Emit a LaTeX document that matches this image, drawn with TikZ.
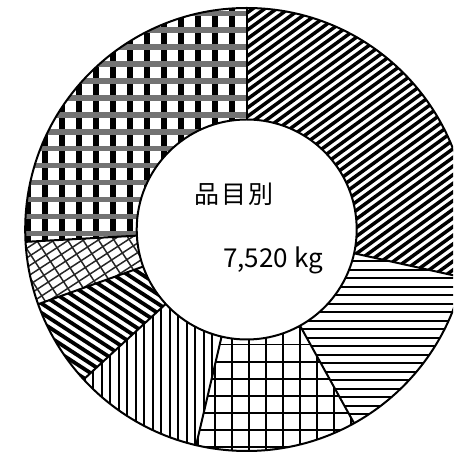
\documentclass[tikz,border=0pt]{standalone}
\usepackage{fontspec}
\newfontfamily\jp{Noto Sans CJK JP}
\newcommand{\Ro}{221.5}
\newcommand{\Ri}{110}
\newcommand{\annsec}[2]{(#1:\Ro) arc[start angle=#1,end angle=#2,radius=\Ro] -- (#2:\Ri) arc[start angle=#2,end angle=#1,radius=\Ri] -- cycle}
\begin{document}
\begin{tikzpicture}[x=1pt,y=1pt,
  outline/.style={line width=2pt, line join=round},
  thinline/.style={line width=1.8pt},
  brickline/.style={line width=1.5pt, draw=black!85},
  wideup/.style={line width=3.5pt},
  widedown/.style={line width=3.8pt},
  plaidbar/.style={line width=6pt},
  plaidband/.style={line width=5.5pt, draw=black!55},
  lbl/.style={font=\jp\fontsize{25}{25}\selectfont, inner sep=0pt}]
\useasboundingbox (0,0) rectangle (453,457);
\clip (0,0) rectangle (453,457);
\begin{scope}[shift={(246.7,227.5)}]
% slice 1: wide upward diagonal
\begin{scope}
\clip \annsec{90}{-12.5};
\foreach \k in {-70,...,70} \draw[wideup,rotate=36] (-320,\k*7.0) -- (320,\k*7.0);
\end{scope}
% slice 2: horizontal lines
\begin{scope}
\clip \annsec{-12.5}{-61};
\foreach \k in {-30,...,10} \draw[thinline] (-320,-48.8+8.5*\k) -- (320,-48.8+8.5*\k);
\end{scope}
% slice 3: grid
\begin{scope}
\clip \annsec{-61}{-103.2};
\foreach \k in {-12,...,12} \draw[thinline] (-31.7+17*\k,-240) -- (-31.7+17*\k,240);
\foreach \k in {-8,...,12} \draw[thinline] (-240,-132.2-17.1*\k) -- (240,-132.2-17.1*\k);
\end{scope}
% slice 4: vertical lines
\begin{scope}
\clip \annsec{-103.2}{-137.4};
\foreach \k in {-15,...,40} \draw[thinline] (-153.4+8.5*\k,-240) -- (-153.4+8.5*\k,240);
\end{scope}
% slice 5: wide downward diagonal
\begin{scope}
\clip \annsec{-137.4}{-160.3};
\foreach \k in {-70,...,70} \draw[widedown,rotate=-33] (-320,\k*7.9) -- (320,\k*7.9);
\end{scope}
% slice 6: diagonal brick
\begin{scope}
\clip \annsec{-160.3}{-176.8};
\foreach \k in {-70,...,70} \draw[brickline,rotate=33] (-320,\k*8) -- (320,\k*8);
\foreach \k in {-40,...,40} \draw[brickline,rotate=-57] (-320,\k*13) -- (320,\k*13);
\end{scope}
% slice 7: plaid
\begin{scope}
\clip \annsec{-176.8}{-270};
\foreach \k in {-16,...,4} \draw[plaidbar] (-14.4+17*\k,-240) -- (-14.4+17*\k,240);
\foreach \k in {-2,...,20} \draw[plaidband] (-240,216.2-16.93*\k) -- (240,216.2-16.93*\k);
\end{scope}
% outlines
\draw[outline] (0,0) circle[radius=\Ro];
\draw[outline, fill=white] (0,0) circle[radius=\Ri];
\foreach \a in {90,-12.5,-61,-103.2,-137.4,-160.3,-176.8}
  \draw[outline] (\a:\Ri) -- (\a:\Ro);
% labels
\node[lbl] (title) at (-13.2,35) {品\kern2pt 目\kern2pt 別};
\node[lbl, anchor=base, font=\jp\fontsize{26}{26}\selectfont] (total) at (26.3,-38.5) {7,520 kg};
\end{scope}
\end{tikzpicture}
\end{document}
